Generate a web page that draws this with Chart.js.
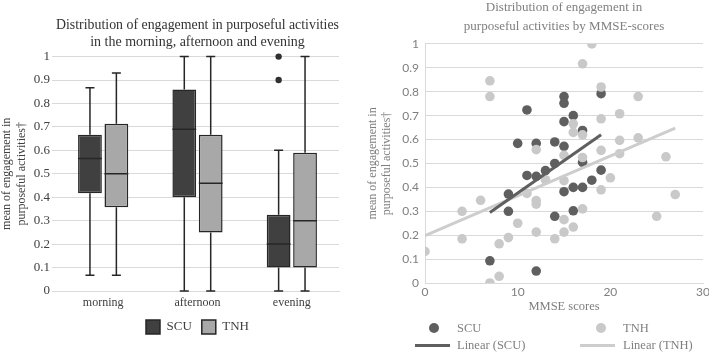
<!DOCTYPE html>
<html><head><meta charset="utf-8">
<script src="https://cdn.jsdelivr.net/npm/chart.js@4.4.1/dist/chart.umd.min.js"></script>
<style>
html,body{margin:0;padding:0;background:#fff;width:709px;height:353px;overflow:hidden;position:relative}
#left{position:absolute;left:0;top:0;width:388px;height:353px}
#right{position:absolute;left:357px;top:-2px;width:355px;height:355px}
.lg{position:absolute;font-family:'Liberation Serif',serif;font-size:12.5px;color:#7f7f7f;line-height:14px;white-space:nowrap}
.dot{position:absolute;width:10px;height:10px;border-radius:50%}
.ln{position:absolute;height:3px}
</style></head><body>
<div id="left"><canvas id="c1" width="388" height="353"></canvas></div>
<div id="right"><canvas id="c2" width="355" height="355"></canvas></div>
<div id="legend2"></div>
<script>
// ---- Left panel: box plot data ----
const categories = ['morning', 'afternoon', 'evening'];
const seriesNames = ['SCU', 'TNH'];
const scuMin = [0.067, 0, 0];
const scuQ1 = [0.417, 0.40, 0.10];
const scuMedian = [0.565, 0.69, 0.20];
const scuQ3 = [0.667, 0.86, 0.325];
const scuMax = [0.867, 1.0, 0.60];
const scuOutliers = [[], [], [0.9, 1.0]];
const tnhMin = [0.067, 0, 0];
const tnhQ1 = [0.357, 0.25, 0.10];
const tnhMedian = [0.50, 0.46, 0.30];
const tnhQ3 = [0.714, 0.667, 0.59];
const tnhMax = [0.93, 1.0, 1.0];
const tnhOutliers = [[], [], []];
const yTicks = [0, 0.1, 0.2, 0.3, 0.4, 0.5, 0.6, 0.7, 0.8, 0.9, 1];

// ---- Right panel: scatter data ----
const scuMMSE = [7, 9, 9, 10, 11, 11, 12, 12, 12, 13, 14, 14, 14, 15, 15, 15, 15, 15, 16, 16, 16, 17, 17, 17, 18, 19, 19];
const scuEngagement = [0.093, 0.372, 0.30, 0.584, 0.724, 0.45, 0.584, 0.446, 0.05, 0.47, 0.59, 0.50, 0.279, 0.78, 0.752, 0.675, 0.572, 0.382, 0.70, 0.40, 0.302, 0.638, 0.505, 0.40, 0.43, 0.792, 0.472];
const tnhMMSE = [0, 4, 4, 6, 7, 7, 7, 8, 8, 9, 10, 11, 12, 12, 12, 12, 13, 14, 15, 15, 15, 15, 16, 16, 16, 17, 17, 17, 17, 18, 19, 19, 19, 19, 20, 21, 21, 21, 23, 23, 25, 26, 27];
const tnhEngagement = [0.132, 0.30, 0.185, 0.346, 0.846, 0.78, 0.0, 0.028, 0.164, 0.19, 0.25, 0.375, 0.558, 0.345, 0.33, 0.213, 0.432, 0.185, 0.534, 0.428, 0.265, 0.213, 0.666, 0.63, 0.234, 0.917, 0.62, 0.525, 0.31, 1.0, 0.82, 0.687, 0.555, 0.39, 0.44, 0.708, 0.597, 0.541, 0.78, 0.607, 0.279, 0.528, 0.37];
const scuTrendX = [7, 19];
const scuTrendY = [0.295, 0.62];
const tnhTrendX = [0, 27];
const tnhTrendY = [0.198, 0.648];
const xTicks = [0, 10, 20, 30];
const legendLabels = ['SCU', 'TNH', 'Linear (SCU)', 'Linear (TNH)'];

const SERIF = "'Liberation Serif', 'Times New Roman', serif";
const boxStats = [
  {min: scuMin, q1: scuQ1, med: scuMedian, q3: scuQ3, max: scuMax, out: scuOutliers},
  {min: tnhMin, q1: tnhQ1, med: tnhMedian, q3: tnhQ3, max: tnhMax, out: tnhOutliers}
];

const whiskerPlugin = {
  id: 'whiskers',
  afterDatasetsDraw(chart) {
    const ctx = chart.ctx, ys = chart.scales.y;
    boxStats.forEach((s, di) => {
      const meta = chart.getDatasetMeta(di);
      meta.data.forEach((bar, i) => {
        const x = bar.x, w = bar.width;
        const pMin = ys.getPixelForValue(s.min[i]);
        const pQ1 = ys.getPixelForValue(s.q1[i]);
        const pMed = ys.getPixelForValue(s.med[i]);
        const pQ3 = ys.getPixelForValue(s.q3[i]);
        const pMax = ys.getPixelForValue(s.max[i]);
        ctx.save();
        ctx.strokeStyle = '#262626';
        ctx.lineWidth = 1.5;
        ctx.beginPath();
        ctx.moveTo(x, pQ3); ctx.lineTo(x, pMax);
        ctx.moveTo(x, pQ1); ctx.lineTo(x, pMin);
        ctx.moveTo(x - 4.5, pMax); ctx.lineTo(x + 4.5, pMax);
        ctx.moveTo(x - 4.5, pMin); ctx.lineTo(x + 4.5, pMin);
        ctx.moveTo(x - w / 2, pMed); ctx.lineTo(x + w / 2, pMed);
        ctx.stroke();
        ctx.fillStyle = '#303030';
        s.out[i].forEach(v => {
          ctx.beginPath();
          ctx.arc(x, ys.getPixelForValue(v), 3.2, 0, Math.PI * 2);
          ctx.fill();
        });
        ctx.restore();
      });
    });
  }
};

new Chart(document.getElementById('c1'), {
  type: 'bar',
  data: {
    labels: categories,
    datasets: [
      {label: seriesNames[0], data: categories.map((c, i) => [scuQ1[i], scuQ3[i]]),
       backgroundColor: '#404040', borderColor: '#262626', borderWidth: 1.5, borderSkipped: false},
      {label: seriesNames[1], data: categories.map((c, i) => [tnhQ1[i], tnhQ3[i]]),
       backgroundColor: '#a8a8a8', borderColor: '#262626', borderWidth: 1.5, borderSkipped: false}
    ]
  },
  options: {
    responsive: false, animation: false,
    barPercentage: 0.9, categoryPercentage: 0.56,
    layout: {padding: {left: 0, right: 49, top: 0, bottom: 9}},
    plugins: {
      tooltip: {enabled: false},
      title: {display: true, fullSize: false, text: ['Distribution of engagement in purposeful activities', 'in the morning, afternoon and evening'],
        color: '#333333', font: {family: SERIF, size: 14, weight: 'normal', lineHeight: 1.2}, padding: {top: 17, bottom: 6}},
      legend: {position: 'bottom', fullSize: false,
        labels: {boxWidth: 14, boxHeight: 14, padding: 10, color: '#404040', font: {family: SERIF, size: 13}}}
    },
    scales: {
      x: {
        grid: {display: false, drawTicks: false},
        border: {display: true, color: '#d9d9d9'},
        ticks: {color: '#404040', font: {family: SERIF, size: 12}, padding: 5},
        afterFit(s) { s.height = 19; }
      },
      y: {
        min: 0, max: 1,
        afterBuildTicks(s) { s.ticks = yTicks.map(v => ({value: v})); },
        grid: {color: '#d9d9d9', tickLength: 4, drawTicks: true},
        border: {display: false},
        ticks: {color: '#404040', font: {family: SERIF, size: 13}, padding: 2,
          callback: v => String(+v.toFixed(1))},
        title: {display: true, text: ['mean of engagement in', 'purposeful activities†'], color: '#404040',
          font: {family: SERIF, size: 12, lineHeight: 1.22}, padding: {top: 0, bottom: 0}},
        afterFit(s) { s.width = 56; }
      }
    }
  },
  plugins: [whiskerPlugin]
});

const toPts = (xs, ys) => xs.map((x, i) => ({x: x, y: ys[i]}));
new Chart(document.getElementById('c2'), {
  type: 'scatter',
  data: {
    datasets: [
      {label: legendLabels[2], data: toPts(scuTrendX, scuTrendY), showLine: true, pointRadius: 0,
       borderColor: '#5f5f5f', borderWidth: 3, order: 0},
      {label: legendLabels[3], data: toPts(tnhTrendX, tnhTrendY), showLine: true, pointRadius: 0,
       borderColor: '#cdcdcd', borderWidth: 3, order: 0},
      {label: legendLabels[1], data: toPts(tnhMMSE, tnhEngagement), pointRadius: 4.8, borderWidth: 0,
       backgroundColor: '#c9c9c9', order: 1},
      {label: legendLabels[0], data: toPts(scuMMSE, scuEngagement), pointRadius: 4.8, borderWidth: 0,
       backgroundColor: '#5f5f5f', order: 2}
    ]
  },
  options: {
    responsive: false, animation: false,
    layout: {padding: {left: 0, right: 0, top: 0, bottom: 39}},
    plugins: {
      tooltip: {enabled: false},
      legend: {display: false},
      title: {display: true, fullSize: false, text: ['Distribution of engagement in', 'purposeful activities by MMSE-scores'],
        color: '#7f7f7f', font: {family: SERIF, size: 13, weight: 'normal', lineHeight: 1.46}, padding: {top: 0, bottom: 8}}
    },
    scales: {
      x: {
        type: 'linear', min: 0, max: 30,
        afterBuildTicks(s) { s.ticks = xTicks.map(v => ({value: v})); },
        grid: {display: false, drawTicks: false},
        border: {display: true, color: '#d9d9d9'},
        ticks: {color: '#7f7f7f', font: {family: 'Lato', size: 12}, padding: 2},
        title: {display: true, text: 'MMSE scores', color: '#7f7f7f', font: {family: SERIF, size: 12.5, lineHeight: 1.2}, padding: {top: 0, bottom: 0}},
        afterFit(s) { s.height = 31; }
      },
      y: {
        min: 0, max: 1,
        afterBuildTicks(s) { s.ticks = yTicks.map(v => ({value: v})); },
        grid: {color: '#d9d9d9', drawTicks: false},
        border: {display: true, color: '#d9d9d9'},
        ticks: {color: '#7f7f7f', font: {family: 'Lato', size: 12}, padding: 6,
          callback: v => String(+v.toFixed(1))},
        title: {display: true, text: ['mean of engagement in', 'purposeful activities†'], color: '#7f7f7f',
          font: {family: SERIF, size: 12, lineHeight: 1.17}, padding: {top: 9, bottom: 0}},
        afterFit(s) { s.width = 68; }
      }
    }
  }
});

// HTML legend for the right panel (two aligned columns)
const lg = document.getElementById('legend2');
const items = [
  {kind: 'dot', color: '#5f5f5f', cx: 434, cy: 328.3, tx: 457, text: legendLabels[0]},
  {kind: 'dot', color: '#c9c9c9', cx: 600.7, cy: 328.3, tx: 623, text: legendLabels[1]},
  {kind: 'ln', color: '#5f5f5f', x0: 415, x1: 450, cy: 345, tx: 457, text: legendLabels[2]},
  {kind: 'ln', color: '#cdcdcd', x0: 580, x1: 615, cy: 345, tx: 623, text: legendLabels[3]}
];
items.forEach(it => {
  const m = document.createElement('div');
  m.className = it.kind;
  m.style.background = it.color;
  if (it.kind === 'dot') { m.style.left = (it.cx - 5) + 'px'; m.style.top = (it.cy - 5) + 'px'; }
  else { m.style.left = it.x0 + 'px'; m.style.width = (it.x1 - it.x0) + 'px'; m.style.top = (it.cy - 1.5) + 'px'; }
  lg.appendChild(m);
  const t = document.createElement('div');
  t.className = 'lg';
  t.textContent = it.text;
  t.style.left = it.tx + 'px';
  t.style.top = (it.cy - 7) + 'px';
  lg.appendChild(t);
});
</script>
</body></html>
